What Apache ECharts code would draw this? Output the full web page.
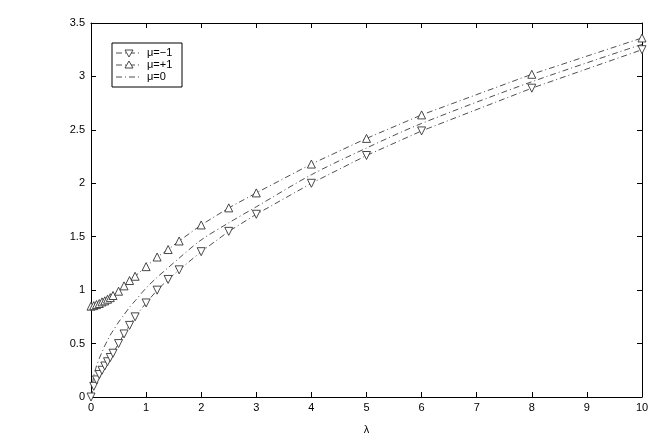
<!DOCTYPE html>
<html><head><meta charset="utf-8">
<script src="https://cdn.jsdelivr.net/npm/echarts@6/dist/echarts.min.js"></script>
<style>html,body{margin:0;padding:0;background:#fff}#c{width:654px;height:436px}</style>
</head><body><div id="c"></div>
<script>
const xVals = [0,0.05,0.1,0.15,0.2,0.25,0.3,0.35,0.4,0.5,0.6,0.7,0.8,1,1.2,1.4,1.6,2,2.5,3,4,5,6,8,10];
const muMinus1 = [0,0.10,0.16,0.21,0.25,0.29,0.33,0.37,0.41,0.5,0.59,0.67,0.75,0.88,1.0,1.1,1.19,1.36,1.55,1.71,2.0,2.26,2.49,2.89,3.25];
const muPlus1 = [0.85,0.855,0.865,0.875,0.89,0.9,0.915,0.93,0.95,0.99,1.04,1.09,1.13,1.22,1.31,1.38,1.46,1.61,1.77,1.91,2.18,2.42,2.64,3.02,3.36];
const muZero = [0,0.2,0.29,0.36,0.42,0.48,0.53,0.58,0.62,0.7,0.77,0.84,0.9,1.02,1.12,1.21,1.3,1.47,1.63,1.78,2.08,2.33,2.56,2.95,3.30];
const xTicks = [0,1,2,3,4,5,6,7,8,9,10];
const yTicks = [0,0.5,1,1.5,2,2.5,3,3.5];
const names = ['μ=−1','μ=+1','μ=0'];

const pair = ys => xVals.map((x,i)=>[x,ys[i]]);
const font = 'Liberation Sans, Arial, sans-serif';
const dash = [6,3,1,3];
const lineStyle = {color:'#222', width:0.8, type:dash};
const axisCommon = () => ({
  axisLine:{show:true,onZero:false,lineStyle:{color:'#000',width:1}},
  axisTick:{show:true,inside:true,length:5,lineStyle:{color:'#000'}},
  splitLine:{show:false}
});
// legend drawn as graphic
const lg = {x:112,y:43,w:70,h:44,rowY:[53,65,77],lineX:[116,142],markX:129,textX:147};
const legendEls = [
  {type:'rect',shape:{x:lg.x,y:lg.y,width:lg.w,height:lg.h},style:{fill:'#fff',stroke:'#000',lineWidth:1},z:100}
];
names.forEach((n,i)=>{
  const y = lg.rowY[i];
  legendEls.push({type:'line',shape:{x1:lg.lineX[0],y1:y,x2:lg.lineX[1],y2:y},style:{stroke:'#222',lineWidth:0.8,lineDash:dash},z:101});
  if(i===0) legendEls.push({type:'polygon',shape:{points:[[lg.markX-4,y-3],[lg.markX+4,y-3],[lg.markX,y+4]]},style:{fill:'#fff',stroke:'#333',lineWidth:0.9},z:102});
  if(i===1) legendEls.push({type:'polygon',shape:{points:[[lg.markX-4,y+3],[lg.markX+4,y+3],[lg.markX,y-4]]},style:{fill:'#fff',stroke:'#333',lineWidth:0.9},z:102});
  legendEls.push({type:'text',x:lg.textX,y:y,style:{text:n,fill:'#000',font:'11px '+font,textVerticalAlign:'middle',verticalAlign:'middle'},z:102});
});
const chart = echarts.init(document.getElementById('c'),null,{renderer:'canvas'});
chart.setOption({
  animation:false,
  backgroundColor:'#fff',
  grid:{left:91,right:12,top:23,bottom:39,containLabel:false,outerBoundsMode:'none'},
  xAxis:[
    Object.assign({type:'value',min:0,max:10,interval:1,position:'bottom',
      name:'λ',nameLocation:'middle',nameGap:27,nameTextStyle:{fontFamily:font,fontSize:11,color:'#000'},
      axisLabel:{fontFamily:font,fontSize:11,color:'#000',margin:5,formatter:v=>xTicks.includes(v)?String(v):''}},axisCommon()),
    Object.assign({type:'value',min:0,max:10,interval:1,position:'top',axisLabel:{show:false}},axisCommon())
  ],
  yAxis:[
    Object.assign({type:'value',min:0,max:3.5,interval:0.5,position:'left',
      axisLabel:{fontFamily:font,fontSize:11,color:'#000',margin:6,formatter:v=>yTicks.includes(v)?String(v):''}},axisCommon()),
    Object.assign({type:'value',min:0,max:3.5,interval:0.5,position:'right',axisLabel:{show:false}},axisCommon())
  ],
  graphic:legendEls,
  series:[
    {name:names[0],type:'line',data:pair(muMinus1),symbol:'triangle',symbolRotate:180,symbolSize:8,showAllSymbol:true,
      itemStyle:{color:'#fff',borderColor:'#333',borderWidth:0.9},lineStyle:lineStyle,z:3},
    {name:names[1],type:'line',data:pair(muPlus1),symbol:'triangle',symbolSize:8,showAllSymbol:true,
      itemStyle:{color:'#fff',borderColor:'#333',borderWidth:0.9},lineStyle:lineStyle,z:3},
    {name:names[2],type:'line',data:pair(muZero),symbol:'none',smooth:0.3,
      itemStyle:{color:'#222'},lineStyle:lineStyle,z:2}
  ]
});
</script></body></html>
